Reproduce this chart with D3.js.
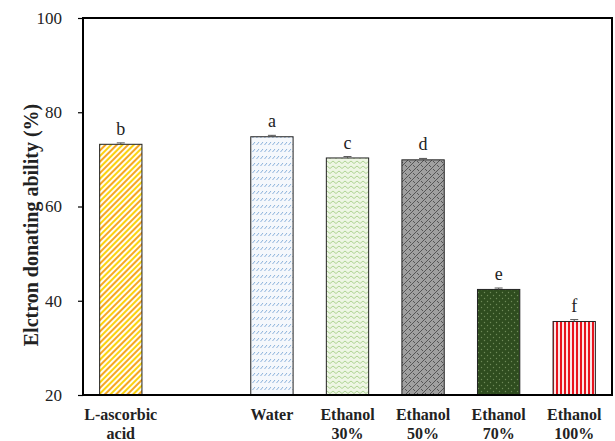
<!DOCTYPE html>
<html>
<head>
<meta charset="utf-8">
<script src="https://cdn.jsdelivr.net/npm/d3@7"></script>
<style>
body { margin: 0; background: #fff; }
</style>
</head>
<body>
<script>
var width = 615;
var height = 441;

var margin = {top: 18, left: 83, right: 3, bottom: 46};

// data
var categories = ["L-ascorbic acid", "gap", "Water", "Ethanol 30%", "Ethanol 50%", "Ethanol 70%", "Ethanol 100%"];
var labelLines = [["L-ascorbic", "acid"], [], ["Water"], ["Ethanol", "30%"], ["Ethanol", "50%"], ["Ethanol", "70%"], ["Ethanol", "100%"]];
var values = [73.2, null, 74.8, 70.3, 69.9, 42.4, 35.6];
var errors = [0.3, null, 0.3, 0.3, 0.3, 0.3, 0.4];
var letters = ["b", "", "a", "c", "d", "e", "f"];
var yTicks = [20, 40, 60, 80, 100];

var serif = "'Liberation Serif', 'Times New Roman', 'DejaVu Serif', serif";

var svg = d3.select("body")
  .append("svg")
  .attr("width", width)
  .attr("height", height);

var defs = svg.append("defs");

// L-ascorbic: yellow/orange diagonal stripes
var p0 = defs.append("pattern").attr("id", "pat0").attr("patternUnits", "userSpaceOnUse")
  .attr("width", 8).attr("height", 8).attr("patternTransform", "rotate(45)");
p0.append("rect").attr("width", 8).attr("height", 8).attr("fill", "#fffdf0");
p0.append("rect").attr("x", 0).attr("width", 2).attr("height", 8).attr("fill", "#f5a623");
p0.append("rect").attr("x", 4).attr("width", 2).attr("height", 8).attr("fill", "#fbd20f");

// Water: light blue short dashes in rows
var p2 = defs.append("pattern").attr("id", "pat2").attr("patternUnits", "userSpaceOnUse")
  .attr("width", 4).attr("height", 7);
p2.append("rect").attr("width", 4).attr("height", 7).attr("fill", "#f5f8fc");
p2.append("line").attr("x1", 0.5).attr("y1", 5).attr("x2", 3).attr("y2", 2)
  .attr("stroke", "#6f9fd2").attr("stroke-width", 0.8);

// Ethanol 30%: light green zigzag
var p3 = defs.append("pattern").attr("id", "pat3").attr("patternUnits", "userSpaceOnUse")
  .attr("width", 6).attr("height", 5);
p3.append("rect").attr("width", 6).attr("height", 5).attr("fill", "#eef6e4");
p3.append("polyline").attr("points", "0,3.5 3,1 6,3.5")
  .attr("fill", "none").attr("stroke", "#a7cf8a").attr("stroke-width", 0.9);

// Ethanol 50%: gray weave
var p4 = defs.append("pattern").attr("id", "pat4").attr("patternUnits", "userSpaceOnUse")
  .attr("width", 8).attr("height", 8);
p4.append("rect").attr("width", 8).attr("height", 8).attr("fill", "#a0a0a0");
p4.append("line").attr("x1", 0).attr("y1", 8).attr("x2", 8).attr("y2", 0)
  .attr("stroke", "#555").attr("stroke-width", 1);
p4.append("line").attr("x1", 1).attr("y1", 1).attr("x2", 3).attr("y2", 3)
  .attr("stroke", "#555").attr("stroke-width", 1);
p4.append("line").attr("x1", 5).attr("y1", 5).attr("x2", 7).attr("y2", 7)
  .attr("stroke", "#555").attr("stroke-width", 1);

// Ethanol 70%: dark green dots
var p5 = defs.append("pattern").attr("id", "pat5").attr("patternUnits", "userSpaceOnUse")
  .attr("width", 6).attr("height", 6);
p5.append("rect").attr("width", 6).attr("height", 6).attr("fill", "#2f4d1f");
p5.append("circle").attr("cx", 1.5).attr("cy", 1.5).attr("r", 0.7).attr("fill", "#6f8a58");
p5.append("circle").attr("cx", 4.5).attr("cy", 4.5).attr("r", 0.7).attr("fill", "#6f8a58");

// Ethanol 100%: red vertical stripes
var p6 = defs.append("pattern").attr("id", "pat6").attr("patternUnits", "userSpaceOnUse")
  .attr("width", 4).attr("height", 4);
p6.append("rect").attr("width", 4).attr("height", 4).attr("fill", "#fbe6e6");
p6.append("rect").attr("x", 0).attr("width", 2).attr("height", 4).attr("fill", "#e8141e");

var fills = ["url(#pat0)", "none", "url(#pat2)", "url(#pat3)", "url(#pat4)", "url(#pat5)", "url(#pat6)"];

var xScale = d3.scaleBand()
  .domain(categories)
  .range([margin.left, width - margin.right])
  .paddingInner(0.44)
  .paddingOuter(0.22);

var yScale = d3.scaleLinear()
  .domain([20, 100])
  .range([height - margin.bottom, margin.top]);

var data = categories.map(function(c, i) {
  return {c: c, v: values[i], e: errors[i], l: letters[i], f: fills[i], lines: labelLines[i]};
});
var shown = data.filter(function(d) { return d.v != null; });

// bars
svg.selectAll("rect.bar")
  .data(shown)
  .enter()
  .append("rect")
    .attr("class", "bar")
    .attr("x", function(d) { return xScale(d.c); })
    .attr("y", function(d) { return yScale(d.v); })
    .attr("width", xScale.bandwidth())
    .attr("height", function(d) { return yScale(20) - yScale(d.v); })
    .attr("fill", function(d) { return d.f; })
    .attr("stroke", "#222")
    .attr("stroke-width", 1);

// error bars
var eb = svg.selectAll("g.err")
  .data(shown)
  .enter()
  .append("g").attr("class", "err");
eb.append("line")
  .attr("x1", function(d) { return xScale(d.c) + xScale.bandwidth() / 2; })
  .attr("x2", function(d) { return xScale(d.c) + xScale.bandwidth() / 2; })
  .attr("y1", function(d) { return yScale(d.v + d.e); })
  .attr("y2", function(d) { return yScale(d.v); })
  .attr("stroke", "#555");
eb.append("line")
  .attr("x1", function(d) { return xScale(d.c) + xScale.bandwidth() / 2 - 4; })
  .attr("x2", function(d) { return xScale(d.c) + xScale.bandwidth() / 2 + 4; })
  .attr("y1", function(d) { return yScale(d.v + d.e); })
  .attr("y2", function(d) { return yScale(d.v + d.e); })
  .attr("stroke", "#555");

// letters
svg.selectAll("text.letter")
  .data(shown)
  .enter()
  .append("text")
    .attr("class", "letter")
    .attr("x", function(d) { return xScale(d.c) + xScale.bandwidth() / 2; })
    .attr("y", function(d) { return yScale(d.v + d.e) - 8; })
    .attr("text-anchor", "middle")
    .style("font-family", serif)
    .style("font-size", "18px")
    .attr("fill", "#222")
    .text(function(d) { return d.l; });

// y axis
var yAxis = svg.append("g")
  .attr("transform", "translate(" + margin.left + ",0)")
  .call(d3.axisLeft(yScale).tickValues(yTicks).tickSize(5).tickPadding(16));
yAxis.select(".domain").remove();
yAxis.selectAll("line").attr("stroke", "#000").attr("stroke-width", 1.2);
yAxis.selectAll("text")
  .style("font-family", serif)
  .style("font-size", "17px")
  .attr("fill", "#222");

// frame
svg.append("rect")
  .attr("x", margin.left)
  .attr("y", margin.top)
  .attr("width", width - margin.right - margin.left)
  .attr("height", height - margin.bottom - margin.top)
  .attr("fill", "none")
  .attr("stroke", "#000")
  .attr("stroke-width", 2);

// x labels
var xl = svg.selectAll("text.xlab")
  .data(data)
  .enter()
  .append("text")
    .attr("class", "xlab")
    .attr("x", function(d) { return xScale(d.c) + xScale.bandwidth() / 2; })
    .attr("y", 420)
    .attr("text-anchor", "middle")
    .style("font-family", serif)
    .style("font-size", "16px")
    .style("font-weight", "bold")
    .attr("fill", "#222");
xl.selectAll("tspan")
  .data(function(d) { return d.lines; })
  .enter()
  .append("tspan")
    .attr("x", function() { var p = d3.select(this.parentNode).datum(); return xScale(p.c) + xScale.bandwidth() / 2; })
    .attr("dy", function(d, i) { return i === 0 ? 0 : 19; })
    .text(function(d) { return d; });

// y title
svg.append("text")
  .attr("transform", "translate(38,225) rotate(-90)")
  .attr("text-anchor", "middle")
  .style("font-family", serif)
  .style("font-size", "20px")
  .style("font-weight", "bold")
  .attr("fill", "#222")
  .text("Elctron donating ability (%)");
</script>
</body>
</html>
